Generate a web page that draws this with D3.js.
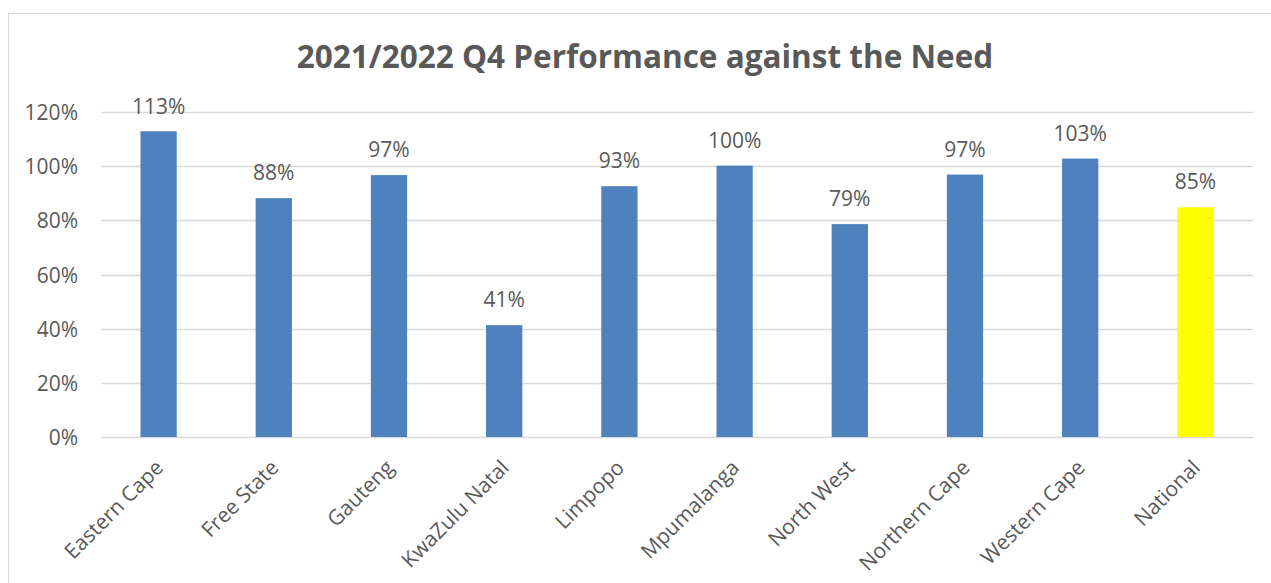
<!DOCTYPE html>
<html><head><meta charset="utf-8">
<script src="https://cdn.jsdelivr.net/npm/d3@7"></script>
<style>html,body{margin:0;padding:0;background:#fff;}svg{display:block;font-family:"Open Sans",sans-serif;}</style>
</head><body>
<svg id="c" width="1271" height="583"></svg>
<script>
const categories = ["Eastern Cape","Free State","Gauteng","KwaZulu Natal","Limpopo","Mpumalanga","North West","Northern Cape","Western Cape","National"];
const values = [112.9, 88.2, 96.7, 41.3, 92.6, 100.2, 78.6, 96.9, 102.8, 84.8];
const barColors = ["#4F81BD","#4F81BD","#4F81BD","#4F81BD","#4F81BD","#4F81BD","#4F81BD","#4F81BD","#4F81BD","#FFFF00"];
const yTicks = [0,20,40,60,80,100,120];
const title = "2021/2022 Q4 Performance against the Need";

const svg = d3.select("#c");
const W = 1271, H = 583;
const plot = {left:101, right:1253, top:112, bottom:437};
const textColor = "#595959";
const fs = "21px";

svg.append("rect").attr("x",8.5).attr("y",13.5).attr("width",W+10).attr("height",H+10)
  .attr("fill","#fff").attr("stroke","#d9d9d9").attr("stroke-width",1);

const x = d3.scaleBand().domain(categories).range([plot.left, plot.right]).paddingInner(0.685).paddingOuter(0.3425);
const y = d3.scaleLinear().domain([0,120]).range([plot.bottom, plot.top]);

// gridlines
svg.append("g").selectAll("line").data(yTicks).join("line")
  .attr("x1",plot.left).attr("x2",plot.right)
  .attr("y1",d=>Math.round(y(d))+0.5).attr("y2",d=>Math.round(y(d))+0.5)
  .attr("stroke","#d9d9d9").attr("stroke-width",1.3);

// y axis labels
const yAxis = d3.axisLeft(y).tickValues(yTicks).tickFormat(d=>d+"%").tickSize(0).tickPadding(0);
const ga = svg.append("g").attr("transform",`translate(78,0)`).call(yAxis);
ga.select(".domain").remove();
ga.selectAll("text").attr("fill",textColor).style("font-size",fs).attr("dy","0.36em")
  .style("font-family","'Open Sans',sans-serif");

// bars
svg.append("g").selectAll("rect").data(values).join("rect")
  .attr("x",(d,i)=>x(categories[i])).attr("width",x.bandwidth())
  .attr("y",d=>y(d)).attr("height",d=>y(0)-y(d))
  .attr("fill",(d,i)=>barColors[i]);

// data labels
svg.append("g").selectAll("text").data(values).join("text")
  .attr("x",(d,i)=>x(categories[i])+x.bandwidth()/2)
  .attr("y",d=>Math.max(y(d)-18, 114))
  .attr("text-anchor","middle").attr("fill",textColor).style("font-size",fs)
  .text(d=>Math.round(d)+"%");

// x labels
const xAxis = d3.axisBottom(x).tickSize(0).tickPadding(0);
const gx = svg.append("g").attr("transform",`translate(0,${plot.bottom})`).call(xAxis);
gx.select(".domain").remove();
gx.selectAll("text").attr("fill",textColor).style("font-size",fs)
  .style("font-family","'Open Sans',sans-serif")
  .attr("text-anchor","end").attr("dy",null).attr("y",0)
  .attr("transform","translate(6,32) rotate(-45)");

// title
svg.append("text").attr("x",645).attr("y",68).attr("text-anchor","middle")
  .attr("fill",textColor).style("font-size","31.5px").style("font-weight","bold").text(title);
</script>
</body></html>
